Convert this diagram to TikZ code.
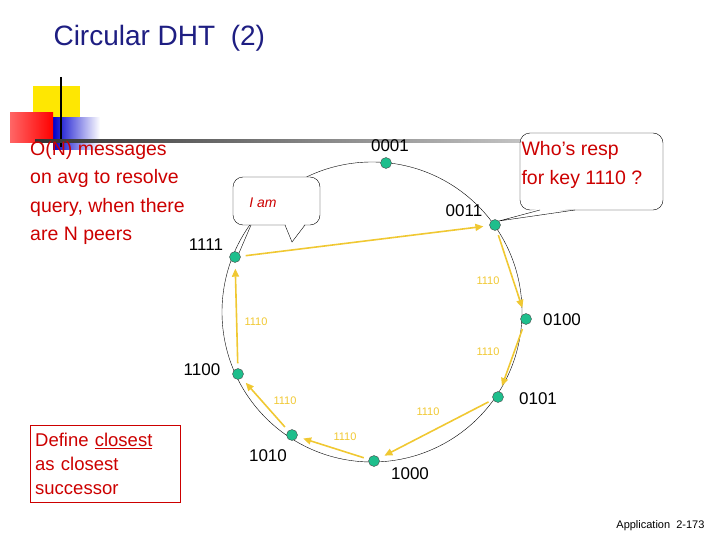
\documentclass[tikz,border=0pt]{standalone}
\usepackage{fontspec}
\setmainfont{Liberation Sans}
\usetikzlibrary{arrows.meta}
\definecolor{rd}{RGB}{204,0,0}
\definecolor{yl}{RGB}{240,200,50}
\definecolor{nd}{RGB}{30,190,140}
\definecolor{tb}{RGB}{30,30,130}
\begin{document}
\begin{tikzpicture}[x=1pt,y=-1pt,
  peer/.style={circle,draw=black!70,fill=nd,inner sep=0pt,minimum size=11pt},
  lab/.style={font=\fontsize{17}{20}\selectfont},
  hop/.style={draw=yl,line width=1.6pt,-{Triangle[length=8pt,width=7pt]},shorten <=5pt,shorten >=6pt},
  hl/.style={text=yl,font=\fontsize{11}{13}\selectfont},
  rt/.style={text=rd,font=\fontsize{19.5}{28.5}\selectfont,align=left},
  bub/.style={draw,rounded corners=10pt,fill=white}]
\useasboundingbox (0,0) rectangle (720,540);
% decoration
\fill[yellow!90!orange] (33,86) rectangle (80,118);
\shade[left color=blue!80!black,right color=white] (53,118) rectangle (100,150);
\shade[left color=red!60!white,right color=red] (10,113) rectangle (53,143);
\draw[line width=2pt] (61,77) -- (61,147);
\shade[left color=black!80,right color=black!10] (35,140) rectangle (640,143);
\node[anchor=west,font=\fontsize{28}{32}\selectfont,text=tb] (title) at (50,38) {Circular DHT\ \ (2)};
% ring
\coordinate (c) at (372,312);
\draw[thin] (c) circle[radius=150];
\node[peer] (p1) at (386,163) {};
\node[peer] (p3) at (495,225) {};
\node[peer] (p4) at (526,319) {};
\node[peer] (p5) at (498,397) {};
\node[peer] (p8) at (374,461) {};
\node[peer] (p10) at (292,435) {};
\node[peer] (p12) at (238,374) {};
\node[peer] (p15) at (235,257) {};
\node[lab] (l1) at (390,146) {0001};
\node[lab] (l3) at (464,211) {0011};
\node[lab] (l4) at (562,320) {0100};
\node[lab] (l5) at (538,399) {0101};
\node[lab] (l8) at (410,474) {1000};
\node[lab] (l10) at (268,456) {1010};
\node[lab] (l12) at (202,370) {1100};
\node[lab] (l15) at (206,245) {1111};
% hops
\draw[hop] (p15) -- (p3);
\draw[hop] (p3) -- (p4);
\draw[hop] (p4) -- (p5);
\draw[hop] (p5) -- (p8);
\draw[hop] (p8) -- (p10);
\draw[hop] (p10) -- (p12);
\draw[hop] (p12) -- (p15);
\node[hl] (h1) at (488,281) {1110};
\node[hl] (h2) at (488,352) {1110};
\node[hl] (h3) at (428,412) {1110};
\node[hl] (h4) at (345,437) {1110};
\node[hl] (h5) at (285,401) {1110};
\node[hl] (h6) at (256,322) {1110};
% bubble I am
\coordinate (t1) at (292,242);
\node[bub,minimum width=87pt,minimum height=48pt] (b1) at (276.5,201) {};
\fill[white] (285,223) -- (t1) -- (305,223) -- cycle;
\draw (285,225) -- (t1) -- (305,225);
\node[text=rd,font=\fontsize{14}{16}\selectfont\itshape] (iam) at (263,203) {I am};
\draw (251,225) -- (p15.north east);
% bubble who
\node[bub,minimum width=143pt,minimum height=77pt] (b2) at (591.5,171.5) {};
\fill[white] (540,208) -- (p3.north east) -- (575,208) -- cycle;
\draw (540,210) -- (p3.north east) -- (575,210);
\node[rt,anchor=north west] (who) at (518,138) {Who’s resp\\for key 1110 ?};
% left texts
\node[rt,anchor=north west,inner sep=0pt] (on) at (30,141) {O(N) messages\\on avg to resolve\\query, when there\\are N peers};
\node[draw=rd,text=rd,font=\fontsize{18.5}{24}\selectfont,align=left,anchor=north west,minimum width=150pt,minimum height=77pt,inner sep=4pt,text width=140pt] (def) at (30,425) {Define \underline{closest}\\as closest\\successor};
\node[anchor=east,font=\fontsize{11}{13}\selectfont] (foot) at (708,526) {Application\ \ 2-173};
\end{tikzpicture}
\end{document}
